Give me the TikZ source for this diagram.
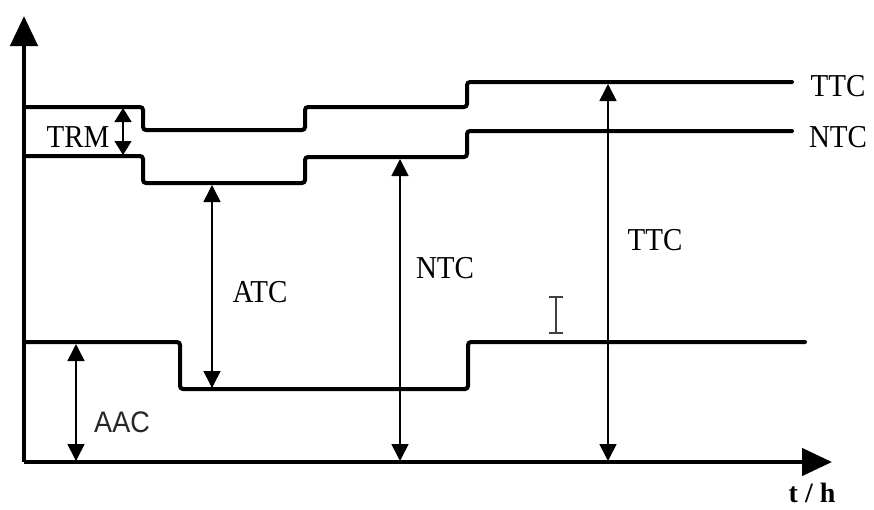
\documentclass[tikz,border=0pt]{standalone}
\usepackage{fontspec}
\setmainfont{Liberation Serif}
\newfontfamily\lsans{Liberation Sans}
\usetikzlibrary{arrows.meta}
\begin{document}
\begin{tikzpicture}[x=1pt,y=-1pt,
  curve/.style={line width=4pt, rounded corners=3pt, line cap=round},
  axisline/.style={line width=4.5pt, -{Triangle[width=27pt,length=30pt]}},
  dim/.style={line width=1.6pt, {Triangle[width=17pt,length=17pt]}-{Triangle[width=17pt,length=17pt]}},
  lbl/.style={font=\fontsize{29}{29}\selectfont, inner sep=0pt, yscale=1.1},
  slbl/.style={font=\lsans\fontsize{27}{27}\selectfont, inner sep=0pt, yscale=1.1, text=black!85}]
\useasboundingbox (0,0) rectangle (874,509);
% axes
\coordinate (O) at (24,462);
\coordinate (Ytip) at (24,16);
\coordinate (Xtip) at (832,462);
\draw[axisline] (O) -- (Ytip);
\draw[axisline] (O) -- (Xtip);
% TTC curve
\draw[curve] (24,107) -- (143,107) -- (143,130) -- (305,130) -- (305,107) -- (467,107) -- (467,82) -- (792,82);
% NTC curve
\draw[curve] (24,156) -- (143,156) -- (143,183) -- (305,183) -- (305,157) -- (467,157) -- (467,131) -- (792,131);
% AAC curve
\draw[curve] (24,342) -- (180,342) -- (180,389) -- (468,389) -- (468,342) -- (805,342);
% dimension coordinates
\coordinate (trmT) at (123,108);
\coordinate (trmB) at (123,155);
\coordinate (atcT) at (212,185);
\coordinate (atcB) at (212,388);
\coordinate (ntcT) at (400,159);
\coordinate (ntcB) at (400,461);
\coordinate (ttcT) at (608,84);
\coordinate (ttcB) at (608,461);
\coordinate (aacT) at (76,344);
\coordinate (aacB) at (76,461);
\draw[dim, {Triangle[width=17pt,length=14pt]}-{Triangle[width=17pt,length=14pt]}] (trmT) -- (trmB);
\draw[dim] (atcT) -- (atcB);
\draw[dim] (ntcT) -- (ntcB);
\draw[dim] (ttcT) -- (ttcB);
\draw[dim] (aacT) -- (aacB);
% labels
\node[lbl] (trm) at (78,137) {TRM};
\node[lbl] (atc) at (260,292) {ATC};
\node[lbl] (ntc) at (445,268) {NTC};
\node[lbl] (ttc) at (655,240) {TTC};
\node[slbl] (aac) at (122,422) {AAC};
\node[lbl] (ttcR) at (838,86) {TTC};
\node[lbl] (ntcR) at (838,137) {NTC};
\node[font=\bfseries\fontsize{28}{28}\selectfont, inner sep=0pt] (th) at (812,493) {t / h};
% I-beam cursor
\draw[line width=1.6pt, black!75] (549,297) -- (563,297) (556,297) -- (556,333) (549,333) -- (563,333);
\end{tikzpicture}
\end{document}
